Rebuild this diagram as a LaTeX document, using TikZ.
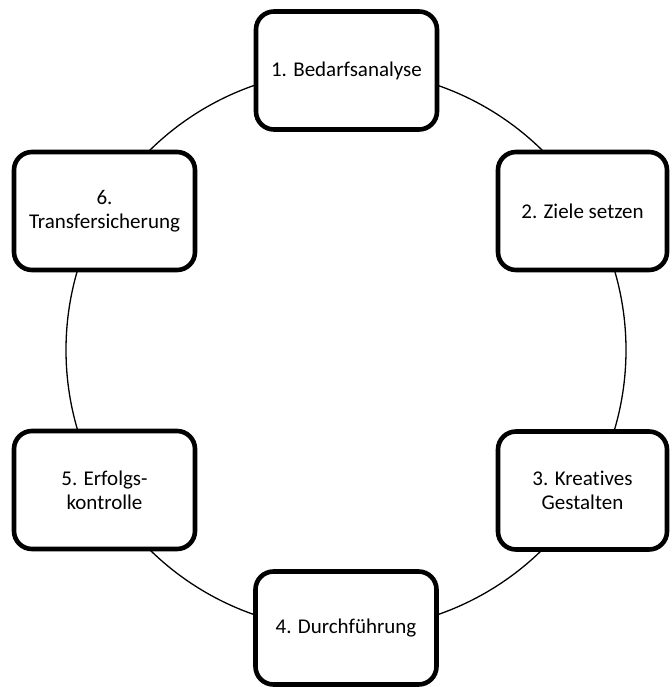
\documentclass[tikz,border=0pt]{standalone}
\usepackage{fontspec}
\setmainfont{Carlito}[Ligatures=NoCommon]
\usepackage{tikz}

\begin{document}
\begin{tikzpicture}[x=0.5pt,y=-0.5pt,
                    phase node/.style={rectangle, rounded corners=9pt, draw, line width=2.3pt,
                      fill=white, minimum width=90.5pt, minimum height=59pt, align=center,
                      inner sep=2pt, font=\fontsize{10.5}{12.2}\selectfont}]
  \useasboundingbox (0,0) rectangle (671,687);

  %Circle%
  \coordinate (c) at (346,350);
  \draw[line width=0.65pt] (c) circle [radius=140pt];

  %Phases%
  \node[phase node] (1) at (346.5,70.5) {1. Bedarfsanalyse};
  \node[phase node, minimum width=84.5pt] (2) at (582.5,211) {2. Ziele setzen};
  \node[phase node, minimum width=84.5pt] (3) at (582.5,490.5) {3. Kreatives\\Gestalten};
  \node[phase node, minimum height=56.5pt] (4) at (346,628) {4. Durchführung};
  \node[phase node] (5) at (104.5,490) {5. Erfolgs-\\kontrolle};
  \node[phase node] (6) at (104.5,211) {6.\\Transfersicherung};
\end{tikzpicture}
\end{document}
